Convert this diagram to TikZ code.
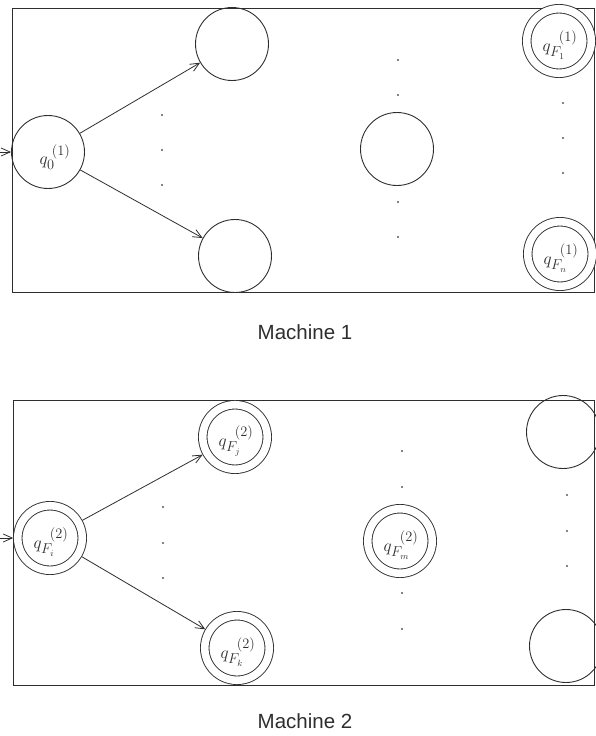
\documentclass[tikz,border=0pt]{standalone}
\usepackage{fontspec}
\setsansfont{Liberation Sans}
\usetikzlibrary{arrows.meta}
\definecolor{ink}{HTML}{2E2E2E}
\tikzset{
  stc/.style={circle, draw=ink, line width=0.9pt, minimum size=73pt, inner sep=0pt, outer sep=0.45pt},
  acc/.style={circle, draw=ink, line width=0.9pt, double=white, double distance=7.6pt, minimum size=64.5pt, inner sep=0pt, outer sep=4.6pt},
  tr/.style={draw=ink, line width=0.8pt, -{Straight Barb[length=9pt,width=8pt,line width=0.8pt]}},
  frame/.style={draw=ink, line width=0.9pt},
  dotm/.style={circle, fill=ink!80, inner sep=0pt, minimum size=2.4pt},
  lab/.style={text=ink, font=\fontsize{19}{19}\selectfont, inner sep=0pt},
  captxt/.style={text=ink, font=\sffamily\fontsize{20.5}{20.5}\selectfont, inner sep=0pt}
}
\begin{document}
\begin{tikzpicture}[x=1pt,y=-1pt]
\useasboundingbox (0,0) rectangle (596,736);
% ---------- Machine 1 ----------
\draw[frame] (12,8) rectangle (594,292);
\node[stc] (q0) at (48,152) {};
\node[stc] (u1) at (232,44) {};
\node[stc] (l1) at (235,256) {};
\node[stc] (m1) at (397,149) {};
\node[acc] (f1) at (559,41) {};
\node[acc] (f2) at (560,254) {};
\node[lab] (q0l) at (55,157) {$q_{0}^{\;(1)}$};
\node[lab] (f1l) at (560,45) {$q_{F_{\scriptscriptstyle 1}}^{\;\;(1)}$};
\node[lab] (f2l) at (561,258) {$q_{F_{\scriptscriptstyle n}}^{\;\;(1)}$};
\coordinate (in1) at (0,152);
\draw[tr] (in1) -- (q0);
\draw[tr] (q0) -- (u1);
\draw[tr] (q0) -- (l1);
\foreach \i/\x/\y in {a/162/115, b/162/150, c/162/185, d/398/60, e/398/95, f/398/202, g/398/237, h/563/103, k/563/138, l/563/173}
  \node[dotm] (d1\i) at (\x,\y) {};
\node[captxt] (cap1) at (305,332) {Machine 1};
% ---------- Machine 2 ----------
\draw[frame] (13,400) rectangle (594,685);
\node[acc] (s2) at (50,538) {};
\node[acc] (u2) at (235,437) {};
\node[acc] (l2) at (237,648) {};
\node[acc] (m2) at (400,541) {};
\node[stc] (tr2) at (563,432) {};
\node[stc] (br2) at (566,646) {};
\node[lab] (s2l) at (51,542) {$q_{F_{\scriptscriptstyle i}}^{\;\;(2)}$};
\node[lab] (u2l) at (236,441) {$q_{F_{\scriptscriptstyle j}}^{\;\;(2)}$};
\node[lab] (l2l) at (238,652) {$q_{F_{\scriptscriptstyle k}}^{\;\;(2)}$};
\node[lab] (m2l) at (401,545) {$q_{F_{\scriptscriptstyle m}}^{\;\;(2)}$};
\coordinate (in2) at (0,538);
\draw[tr] (in2) -- (s2);
\draw[tr] (s2) -- (u2);
\draw[tr] (s2) -- (l2);
\foreach \i/\x/\y in {a/163/507, b/163/543, c/163/578, d/402/451, e/402/487, f/402/593, g/402/629, h/567/495, k/567/531, l/567/566}
  \node[dotm] (d2\i) at (\x,\y) {};
\node[captxt] (cap2) at (305,721) {Machine 2};
\end{tikzpicture}
\end{document}
